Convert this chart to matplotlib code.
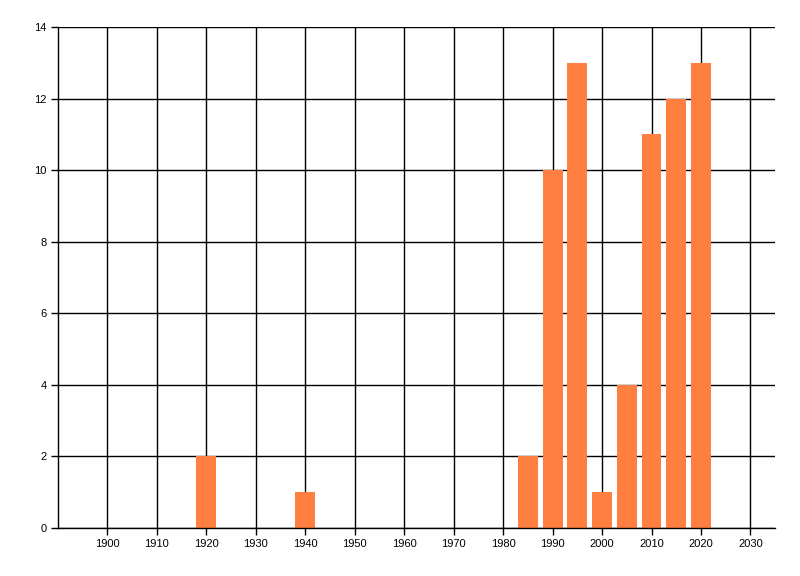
import matplotlib
matplotlib.use("Agg")
import matplotlib.pyplot as plt

years = [1920, 1940, 1985, 1990, 1995, 2000, 2005, 2010, 2015, 2020]
counts = [2, 1, 2, 10, 13, 1, 4, 11, 12, 13]
x_ticks = list(range(1900, 2031, 10))
y_ticks = list(range(0, 15, 2))

plt.rcParams["font.family"] = ["Liberation Sans", "DejaVu Sans"]

fig = plt.figure(figsize=(8, 5.76), dpi=100)
ax = fig.add_axes([0.0725, 0.0833, 0.8965, 0.8698])

ax.bar(years, counts, width=4, color="#FF7F40", zorder=3)

ax.set_xlim(1890, 2035)
ax.set_ylim(0, 14)
ax.set_xticks(x_ticks)
ax.set_yticks(y_ticks)
ax.grid(True, color="black", lw=1, zorder=1)
ax.set_axisbelow(True)

for s in ("top", "right"):
    ax.spines[s].set_visible(False)
for s in ("left", "bottom"):
    ax.spines[s].set_linewidth(1)
    ax.spines[s].set_zorder(4)

ax.tick_params(length=5, width=1, labelsize=8, colors="black", pad=3)

fig.savefig("out.png", dpi=100, facecolor="white")
